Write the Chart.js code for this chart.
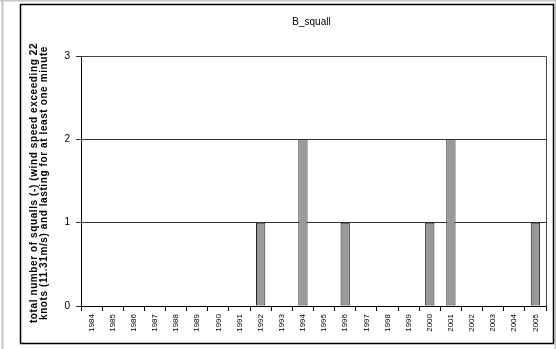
<!DOCTYPE html>
<html>
<head>
<meta charset="utf-8">
<script src="https://cdn.jsdelivr.net/npm/chart.js@4/dist/chart.umd.min.js"></script>
<style>
  html, body { margin: 0; padding: 0; background: #fff; }
  canvas { display: block; }
</style>
</head>
<body>
<canvas id="chart" width="556" height="349"></canvas>
<script>
// Yearly squall counts
const years = ['1984', '1985', '1986', '1987', '1988', '1989', '1990', '1991', '1992', '1993', '1994',
               '1995', '1996', '1997', '1998', '1999', '2000', '2001', '2002', '2003', '2004', '2005'];
const squalls = [0, 0, 0, 0, 0, 0, 0, 0, 1, 0, 2, 0, 1, 0, 0, 0, 1, 2, 0, 0, 0, 1];
const yTicks = [0, 1, 2, 3];
const chartTitle = 'B_squall';
const yTitleLines = [
  'total number of squalls (-) (wind speed exceeding 22',
  'knots (11.31m/s) and lasting for at least one minute'
];

const FONT = "'Liberation Sans', Arial, sans-serif";

// Frame, plot border and titles
const decorations = {
  id: 'decorations',
  beforeDraw(chart) {
    const ctx = chart.ctx;
    ctx.save();
    ctx.fillStyle = '#fff';
    ctx.fillRect(0, 0, chart.width, chart.height);
    // light page edges
    ctx.strokeStyle = '#c8c8c8';
    ctx.lineWidth = 2;
    ctx.beginPath();
    ctx.moveTo(2.5, 0); ctx.lineTo(2.5, chart.height);
    ctx.moveTo(0, 0.5); ctx.lineTo(chart.width, 0.5);
    ctx.moveTo(555.5, 0); ctx.lineTo(555.5, chart.height);
    ctx.stroke();
    // outer chart frame
    ctx.strokeStyle = '#000';
    ctx.lineWidth = 1.5;
    ctx.strokeRect(20.5, 4.5, 533, 339);
    ctx.restore();
  },
  afterDraw(chart) {
    const ctx = chart.ctx;
    const a = chart.chartArea;
    ctx.save();
    // plot area top/right edges
    ctx.strokeStyle = '#444';
    ctx.lineWidth = 1;
    ctx.beginPath();
    ctx.moveTo(a.left, Math.round(a.top) + 0.5);
    ctx.lineTo(Math.round(a.right) + 0.5, Math.round(a.top) + 0.5);
    ctx.lineTo(Math.round(a.right) + 0.5, a.bottom);
    ctx.stroke();

    // chart title
    ctx.fillStyle = '#000';
    ctx.font = '10px ' + FONT;
    ctx.textAlign = 'center';
    ctx.textBaseline = 'middle';
    ctx.fillText(chartTitle, (a.left + a.right) / 2 - 2, 22);

    // y axis title, two rotated lines
    ctx.font = 'bold 10px ' + FONT;
    ctx.letterSpacing = '0.6px';
    ctx.translate(34, 183);
    ctx.rotate(-Math.PI / 2);
    yTitleLines.forEach((line, i) => ctx.fillText(line, 0, i * 10));
    ctx.restore();
  }
};

new Chart(document.getElementById('chart'), {
  type: 'bar',
  data: {
    labels: years,
    datasets: [{
      data: squalls,
      backgroundColor: '#999999',
      borderColor: '#222',
      borderWidth: 1,
      borderSkipped: false,
      barPercentage: 0.44,
      categoryPercentage: 1
    }]
  },
  options: {
    responsive: false,
    animation: false,
    events: [],
    layout: { padding: { left: 21, top: 56, right: 10, bottom: 0 } },
    plugins: {
      legend: { display: false },
      title: { display: false },
      tooltip: { enabled: false }
    },
    scales: {
      x: {
        offset: true,
        grid: {
          offset: true,
          drawOnChartArea: false,
          drawTicks: true,
          tickLength: 5,
          color: '#000'
        },
        border: { color: '#000', width: 1 },
        ticks: {
          autoSkip: false,
          minRotation: 90,
          maxRotation: 90,
          padding: 3,
          color: '#000',
          font: { family: FONT, size: 8 }
        },
        afterFit(scale) { scale.height = 43; }
      },
      y: {
        min: 0,
        max: 3,
        afterBuildTicks(scale) { scale.ticks = yTicks.map(v => ({ value: v })); },
        grid: {
          color: '#333',
          drawTicks: true,
          tickLength: 5
        },
        border: { color: '#000', width: 1 },
        ticks: {
          padding: 6,
          color: '#000',
          font: { family: FONT, size: 10 }
        },
        afterFit(scale) { scale.width = 60; }
      }
    }
  },
  plugins: [decorations]
});
</script>
</body>
</html>
